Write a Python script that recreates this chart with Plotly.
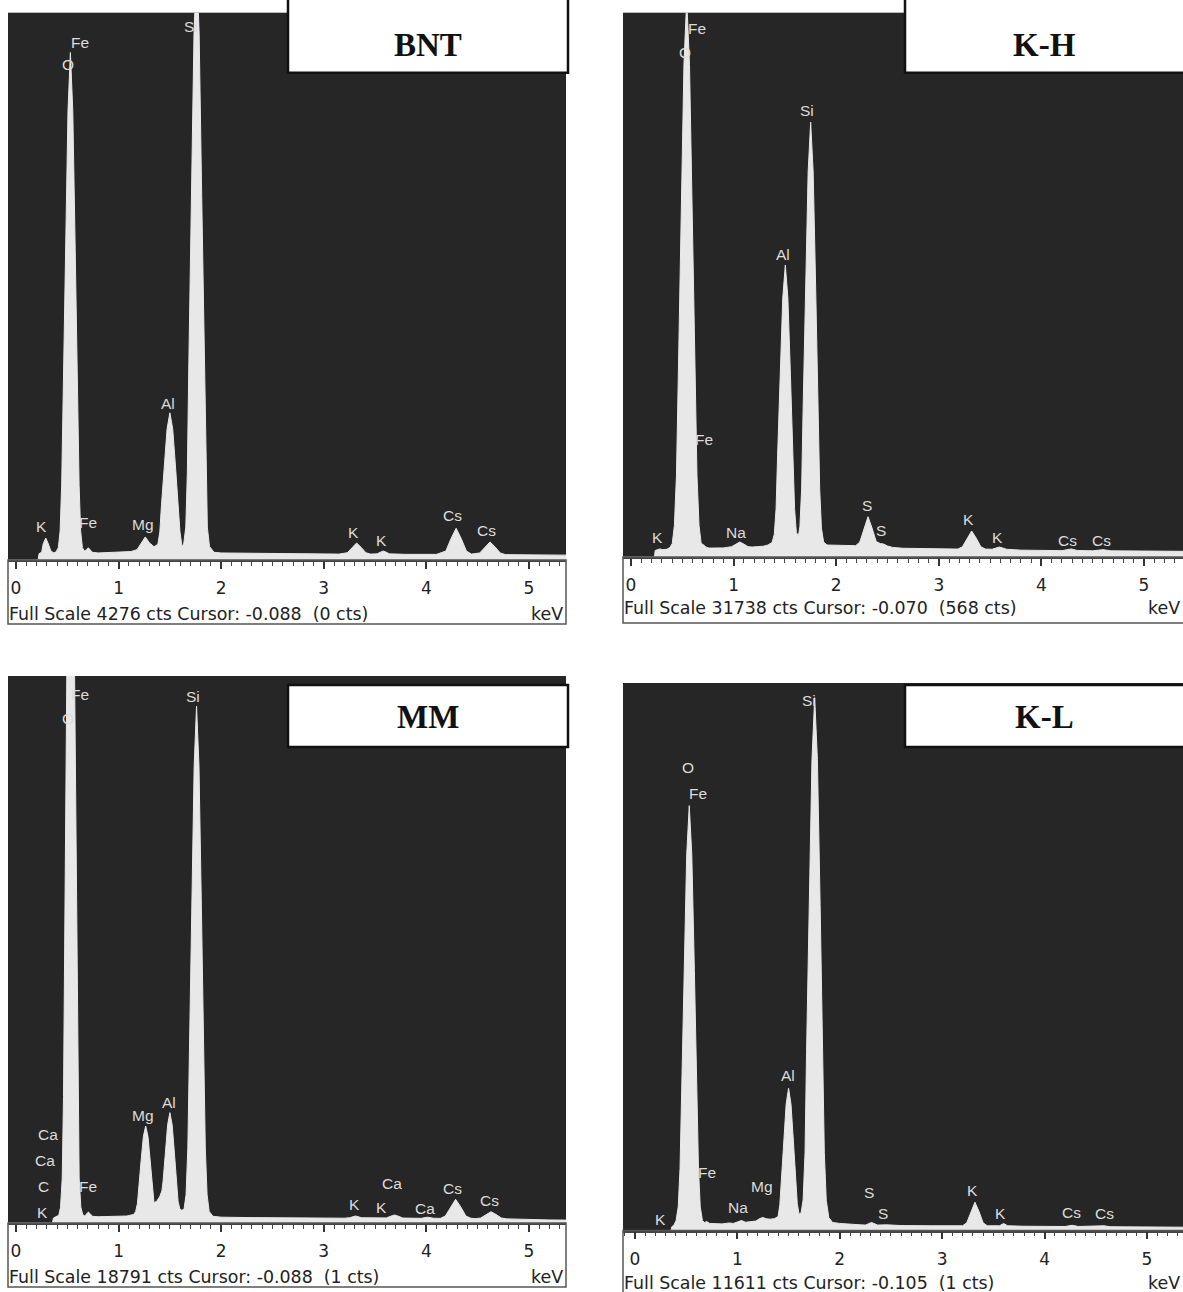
import plotly.graph_objects as go

# ---------------- EDS spectra: energy (keV) and intensity (counts) ----------------
bnt_kev = [-0.078, 0.215, 0.225, 0.25, 0.265, 0.29, 0.315, 0.34, 0.365, 0.39,
           0.413, 0.43, 0.445, 0.4595, 0.483, 0.5065, 0.53, 0.5535, 0.577, 0.6005,
           0.615, 0.63, 0.647, 0.665, 0.685, 0.705, 0.725, 0.745, 0.8, 0.86,
           0.93, 1.0, 1.06, 1.12, 1.18, 1.22, 1.26, 1.30, 1.345, 1.3825,
           1.402, 1.4175, 1.445, 1.4725, 1.50, 1.5275, 1.555, 1.5825, 1.598, 1.617,
           1.634, 1.655, 1.67, 1.685, 1.71, 1.735, 1.76, 1.785, 1.81, 1.835,
           1.85, 1.865, 1.886, 1.93, 2.0, 2.15, 2.3, 2.45, 2.6, 2.8,
           3.0, 3.15, 3.23, 3.275, 3.32, 3.365, 3.41, 3.455, 3.52, 3.55,
           3.58, 3.61, 3.64, 3.8, 3.95, 4.1, 4.19, 4.24, 4.29, 4.34,
           4.39, 4.44, 4.52, 4.57, 4.62, 4.67, 4.72, 4.77, 4.9, 5.05,
           5.2, 5.361]
bnt_cts = [0, 0, 50, 60, 126, 172, 126, 71, 57, 62,
           98, 227, 584, 1325, 2428, 3506, 3965, 3506, 2428, 1325,
           584, 227, 98, 70, 79, 95, 79, 60, 55, 58,
           57, 60, 62, 66, 81, 135, 180, 135, 104, 122,
           220, 424, 727, 1024, 1150, 1024, 727, 424, 222, 112,
           122, 257, 677, 1549, 2847, 4115, 4655, 4115, 2847, 1549,
           677, 257, 106, 60, 55, 54, 52, 50, 50, 47,
           47, 46, 57, 98, 133, 98, 57, 46, 48, 60,
           70, 60, 48, 44, 43, 44, 70, 167, 248, 167,
           70, 46, 55, 102, 141, 102, 55, 42, 40, 40,
           39, 38]

kh_kev = [-0.078, 0.228, 0.236, 0.26, 0.28, 0.31, 0.35, 0.38, 0.402, 0.423,
          0.443, 0.462, 0.489, 0.516, 0.543, 0.57, 0.597, 0.624, 0.643, 0.663,
          0.684, 0.705, 0.73, 0.76, 0.82, 0.9, 0.98, 1.02, 1.06, 1.10,
          1.14, 1.18, 1.23, 1.29, 1.335, 1.375, 1.3965, 1.414, 1.429, 1.454,
          1.479, 1.504, 1.529, 1.554, 1.579, 1.594, 1.6115, 1.633, 1.646, 1.663,
          1.6775, 1.702, 1.7265, 1.751, 1.7755, 1.8, 1.8245, 1.839, 1.856, 1.877,
          1.91, 2.0, 2.1, 2.19, 2.23, 2.27, 2.31, 2.35, 2.39, 2.43,
          2.46, 2.5, 2.55, 2.65, 2.8, 3.0, 3.185, 3.23, 3.275, 3.32,
          3.365, 3.41, 3.455, 3.52, 3.555, 3.59, 3.625, 3.66, 3.8, 4.0,
          4.2, 4.29, 4.35, 4.5, 4.6, 4.68, 4.85, 5.0, 5.2, 5.38]
kh_cts = [0, 0, 380, 430, 470, 430, 450, 560, 786, 1838,
          4769, 10843, 19880, 28730, 32500, 28730, 19880, 10843, 4769, 1838,
          786, 720, 580, 520, 525, 530, 600, 751, 875, 751,
          603, 580, 590, 630, 700, 850, 1321, 2822, 5933, 10569,
          15094, 17024, 15094, 10569, 5935, 2838, 1421, 1260, 1758, 3962,
          8640, 15628, 22450, 25360, 22450, 15628, 8640, 3950, 1687, 875,
          700, 680, 660, 660, 871, 1678, 2350, 1678, 900, 780,
          760, 640, 560, 510, 490, 470, 462, 594, 1097, 1516,
          1097, 594, 462, 450, 520, 580, 520, 450, 400, 380,
          370, 470, 380, 360, 430, 360, 345, 340, 330, 330]

mm_kev = [-0.078, 0.355, 0.365, 0.385, 0.40, 0.4175, 0.434, 0.4505, 0.463, 0.476,
          0.495, 0.514, 0.533, 0.552, 0.571, 0.59, 0.603, 0.6155, 0.632, 0.65,
          0.67, 0.685, 0.705, 0.725, 0.745, 0.8, 0.9, 1.0, 1.08, 1.147,
          1.1665, 1.184, 1.1965, 1.219, 1.2415, 1.264, 1.2865, 1.309, 1.3315, 1.345,
          1.37, 1.40, 1.422, 1.434, 1.456, 1.478, 1.50, 1.522, 1.544, 1.566,
          1.58, 1.597, 1.615, 1.6375, 1.6575, 1.675, 1.6895, 1.713, 1.7365, 1.76,
          1.7835, 1.807, 1.8305, 1.845, 1.8625, 1.883, 1.92, 2.0, 2.3, 2.6,
          3.0, 3.2, 3.25, 3.31, 3.37, 3.5, 3.61, 3.65, 3.69, 3.73,
          3.77, 3.95, 4.01, 4.07, 4.135, 4.185, 4.235, 4.285, 4.335, 4.385,
          4.435, 4.48, 4.53, 4.58, 4.63, 4.68, 4.73, 4.78, 5.0, 5.2,
          5.361]
mm_cts = [0, 0, 170, 200, 220, 267, 541, 1548, 4354, 10168,
          18820, 27290, 30900, 27290, 18820, 10168, 4354, 1548, 541, 290,
          240, 310, 378, 310, 230, 215, 220, 225, 240, 294,
          395, 676, 1257, 2123, 2971, 3332, 2971, 2123, 1257, 700,
          740, 900, 1100, 1450, 2403, 3375, 3790, 3375, 2403, 1406,
          737, 480, 440, 470, 970, 2574, 5898, 10850, 15690, 17750,
          15690, 10850, 5898, 2574, 970, 395, 230, 200, 185, 175,
          170, 165, 180, 240, 180, 165, 175, 230, 275, 230,
          170, 160, 200, 165, 157, 240, 553, 814, 553, 240,
          160, 150, 173, 290, 388, 290, 173, 143, 115, 105,
          100]

kl_kev = [-0.117, 0.352, 0.36, 0.38, 0.401, 0.4225, 0.44, 0.455, 0.48, 0.505,
          0.53, 0.555, 0.58, 0.605, 0.62, 0.6375, 0.659, 0.68, 0.70, 0.73,
          0.78, 0.85, 0.92, 0.96, 1.0, 1.04, 1.08, 1.12, 1.18, 1.22,
          1.25, 1.28, 1.32, 1.36, 1.3975, 1.415, 1.4295, 1.453, 1.4765, 1.50,
          1.5235, 1.547, 1.5705, 1.585, 1.6025, 1.623, 1.642, 1.661, 1.6755, 1.702,
          1.7285, 1.755, 1.7815, 1.808, 1.8345, 1.849, 1.868, 1.893, 1.93, 2.0,
          2.2, 2.25, 2.31, 2.37, 2.46, 2.6, 2.9, 3.15, 3.2, 3.24,
          3.28, 3.32, 3.36, 3.40, 3.44, 3.56, 3.60, 3.64, 3.8, 4.0,
          4.2, 4.27, 4.33, 4.58, 4.64, 5.0, 5.2, 5.352]
kl_cts = [0, 0, 80, 110, 209, 501, 1314, 3000, 5512, 7964,
          9010, 7964, 5512, 3000, 1314, 501, 209, 170, 190, 150,
          140, 140, 160, 150, 180, 212, 175, 185, 200, 255,
          276, 250, 240, 250, 295, 555, 1094, 1897, 2682, 3016,
          2682, 1897, 1094, 572, 343, 384, 649, 1659, 3770, 6918,
          9990, 11300, 9990, 6918, 3770, 1659, 640, 274, 170, 150,
          120, 115, 170, 115, 120, 105, 100, 100, 100, 163,
          402, 600, 402, 163, 100, 100, 148, 100, 90, 85,
          85, 110, 85, 100, 80, 75, 70, 70]

sample_names = ["BNT", "K-H", "MM", "K-L"]
full_scale_cts = [4276, 31738, 18791, 11611]
cursor_kev = ["-0.088", "-0.070", "-0.088", "-0.105"]
cursor_cts = [0, 568, 1, 1]
axis_ticks = [0, 1, 2, 3, 4, 5]

spectra = [(bnt_kev, bnt_cts), (kh_kev, kh_cts), (mm_kev, mm_cts), (kl_kev, kl_cts)]

# ---------------- page geometry (pixels) ----------------
W, H = 1183, 1292


def fx(p):
    return p / W


def fy(p):
    return 1 - p / H


# plot box: left, top, right, bottom; ruler bottom; status-line y; keV range
panels = [
    dict(box=(8, 12.7, 566, 560), ruler=624, status=614, xr=(-0.078, 5.361),
         title=(288, -6, 568, 72.7), title_y=45),
    dict(box=(623, 12.7, 1183, 557), ruler=623, status=608, xr=(-0.078, 5.380),
         title=(905, -6, 1192, 72.7), title_y=45),
    dict(box=(8, 676, 566, 1223), ruler=1287, status=1277, xr=(-0.078, 5.361),
         title=(288, 685, 568, 747), title_y=717),
    dict(box=(623, 683, 1183, 1230.5), ruler=1296, status=1283, xr=(-0.117, 5.352),
         title=(905, 685, 1192, 747), title_y=717),
]

# element markers placed above the peaks (pixel positions)
peak_labels = [
    [("Fe", 80, 42), ("O", 68, 64), ("Si", 191, 26), ("Al", 168, 403), ("K", 41, 526),
     ("Fe", 88, 522), ("Mg", 143, 524), ("K", 353, 532), ("K", 381, 541),
     ("Cs", 452, 516), ("Cs", 486, 530)],
    [("Fe", 697, 28), ("O", 685, 52), ("Si", 807, 111), ("Al", 783, 254), ("Fe", 704, 440),
     ("K", 657, 537), ("Na", 736, 532), ("S", 867, 505), ("S", 881, 530), ("K", 968, 519),
     ("K", 997, 538), ("Cs", 1067, 541), ("Cs", 1101, 541)],
    [("Fe", 80, 694), ("O", 68, 718), ("Si", 193, 696), ("Mg", 143, 1115), ("Al", 169, 1102),
     ("Ca", 48, 1134), ("Ca", 45, 1160), ("C", 43, 1186), ("K", 42, 1212), ("Fe", 88, 1186),
     ("K", 354, 1204), ("Ca", 392, 1183), ("K", 381, 1207), ("Ca", 425, 1208),
     ("Cs", 452, 1188), ("Cs", 489, 1200)],
    [("Si", 809, 700), ("O", 688, 767), ("Fe", 698, 793), ("Al", 788, 1075), ("Fe", 707, 1172),
     ("Mg", 762, 1186), ("Na", 738, 1207), ("K", 660, 1219), ("S", 869, 1192), ("S", 883, 1213),
     ("K", 972, 1190), ("K", 1000, 1213), ("Cs", 1071, 1212), ("Cs", 1104, 1213)],
]

DARK = "#262626"
FILL = "#e8e8e8"
LABEL = "#dcdcdc"
SANS = "DejaVu Sans"

fig = go.Figure()
shapes = []
annotations = []

for i, (p, (kev, cts)) in enumerate(zip(panels, spectra), start=1):
    sfx = "" if i == 1 else str(i)
    left, top, right, bottom = p["box"]

    fig.add_trace(go.Scatter(
        x=kev, y=cts, xaxis="x" + sfx, yaxis="y" + sfx,
        mode="lines", line=dict(color=FILL, width=1),
        fill="tozeroy", fillcolor=FILL, hoverinfo="skip", showlegend=False,
    ))

    fig.layout["xaxis" + sfx] = dict(
        domain=[fx(left), fx(min(right, W))], anchor="y" + sfx,
        range=list(p["xr"]), tickvals=axis_ticks, ticks="outside",
        ticklen=7, tickwidth=1.5, tickcolor="#333",
        minor=dict(dtick=0.1, tick0=0, ticks="outside", ticklen=4,
                   tickwidth=1, tickcolor="#444"),
        showline=True, linecolor="#444", linewidth=1.5,
        showgrid=False, zeroline=False, ticklabelstandoff=5,
        tickfont=dict(family=SANS, size=17, color="#222"),
        fixedrange=True,
    )
    fig.layout["yaxis" + sfx] = dict(
        domain=[fy(bottom), fy(top)], anchor="x" + sfx,
        range=[0, full_scale_cts[i - 1]], visible=False, fixedrange=True,
    )

    # ruler frame below the spectrum
    shapes.append(dict(type="rect", xref="paper", yref="paper",
                       x0=fx(left), x1=fx(right + (6 if right >= W else 0)),
                       y0=fy(bottom), y1=fy(p["ruler"]),
                       line=dict(color="#555", width=1.5), fillcolor="rgba(0,0,0,0)"))

    # sample title box
    tx0, ty0, tx1, ty1 = p["title"]
    shapes.append(dict(type="rect", xref="paper", yref="paper",
                       x0=fx(tx0), x1=fx(tx1), y0=fy(ty1), y1=fy(ty0),
                       line=dict(color="#111", width=2.5), fillcolor="white"))
    annotations.append(dict(
        xref="paper", yref="paper", x=fx((tx0 + min(tx1, W)) / 2), y=fy(p["title_y"]),
        text="<b>" + sample_names[i - 1] + "</b>", showarrow=False,
        xanchor="center", yanchor="middle",
        font=dict(family="Liberation Serif", size=33, color="#111")))

    # status line under the ruler
    status = (f"Full Scale {full_scale_cts[i - 1]} cts Cursor: {cursor_kev[i - 1]}"
              f"\u00a0 ({cursor_cts[i - 1]} cts)")
    annotations.append(dict(
        xref="paper", yref="paper", x=fx(left - 1), y=fy(p["status"]), text=status,
        showarrow=False, xanchor="left", yanchor="middle",
        font=dict(family=SANS, size=17.4, color="#222")))
    annotations.append(dict(
        xref="paper", yref="paper", x=fx(min(right, W) - 1), y=fy(p["status"]), text="keV",
        showarrow=False, xanchor="right", yanchor="middle",
        font=dict(family=SANS, size=17.4, color="#222")))

    for txt, lx, ly in peak_labels[i - 1]:
        annotations.append(dict(
            xref="paper", yref="paper", x=fx(lx), y=fy(ly), text=txt,
            showarrow=False, xanchor="center", yanchor="middle",
            font=dict(family="Liberation Sans", size=15.5, color=LABEL)))

fig.update_layout(
    width=W, height=H, margin=dict(l=0, r=0, t=0, b=0),
    paper_bgcolor="white", plot_bgcolor=DARK,
    shapes=shapes, annotations=annotations, showlegend=False,
)

fig.write_html("out.html", config={"displayModeBar": False})
